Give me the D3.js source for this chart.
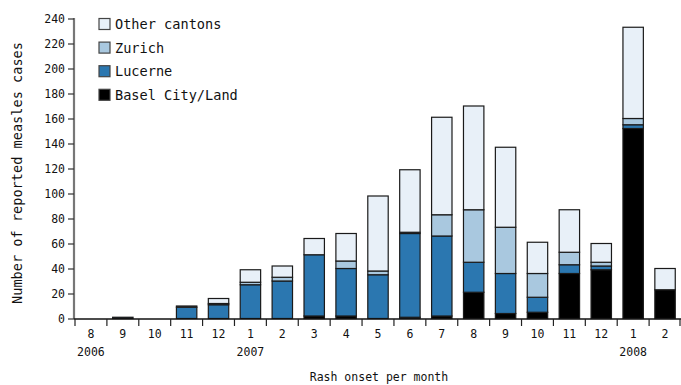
<!DOCTYPE html>
<html><head><meta charset="utf-8">
<script src="https://cdn.jsdelivr.net/npm/d3@7/dist/d3.min.js"></script>
<style>
body{margin:0;background:#fff;}
text{font-family:"DejaVu Sans Mono",monospace;fill:#111;}
</style></head>
<body><svg id="c" width="681" height="385"></svg>
<script>
const months = ["8","9","10","11","12","1","2","3","4","5","6","7","8","9","10","11","12","1","2"];
const yearLabels = [{i:0,label:"2006"},{i:5,label:"2007"},{i:17,label:"2008"}];
const basel  = [0,0,0,0,0,0,0,2,2,0,1,2,21,4,5,36,39,152,23];
const lucerne= [0,1,0,9,11,27,30,49,38,35,67,64,24,32,12,7,3,3,0];
const zurich = [0,0,0,0,1,2,3,0,6,3,1,17,42,37,19,10,3,5,0];
const other  = [0,0,0,1,4,10,9,13,22,60,50,78,83,64,25,34,15,73,17];
const seriesNames = ["Basel City/Land","Lucerne","Zurich","Other cantons"];
const colors = ["#000000","#2b77b0","#a9c8df","#e8f0f8"];
const yTicks = d3.range(0,241,20);

const svg = d3.select("#c");
const x = d3.scaleBand().domain(d3.range(months.length)).range([75,681]).paddingInner(0.36).paddingOuter(0.18);
const y = d3.scaleLinear().domain([0,240]).range([318.5,18.5]);

const rows = months.map((m,i)=>({i, b:basel[i], l:lucerne[i], z:zurich[i], o:other[i]}));
const stack = d3.stack().keys(["b","l","z","o"])(rows);

stack.forEach((s,k)=>{
  svg.append("g").selectAll("rect").data(s.filter(d=>d[1]-d[0]>0)).join("rect")
    .attr("x",d=>x(d.data.i)).attr("width",x.bandwidth())
    .attr("y",d=>y(d[1])).attr("height",d=>y(d[0])-y(d[1]))
    .attr("fill",colors[k]).attr("stroke","#1a1a1a").attr("stroke-width",1.2);
});

// y axis
const ya = svg.append("g").attr("transform","translate(74,0)")
  .call(d3.axisLeft(y).tickValues(yTicks).tickSize(6).tickPadding(3));
ya.select(".domain").attr("stroke","#777").attr("stroke-width",2.2).attr("d","M0,18V319");
ya.selectAll(".tick line").attr("stroke","#333").attr("stroke-width",1.2);
ya.selectAll("text").style("font-size","11.5px").attr("fill","#111");

// x axis
const step = x.step();
const xg = svg.append("g");
xg.append("line").attr("x1",74).attr("x2",681).attr("y1",319).attr("y2",319).attr("stroke","#111").attr("stroke-width",1.3);
d3.range(months.length+1).forEach(k=>{
  const px = 75 + k*step - (k===months.length?1:0);
  xg.append("line").attr("x1",px).attr("x2",px).attr("y1",319).attr("y2",326).attr("stroke","#222").attr("stroke-width",1.2);
});
xg.selectAll("text.m").data(months).join("text").attr("class","m")
  .attr("x",(d,i)=>x(i)+x.bandwidth()/2).attr("y",338).attr("text-anchor","middle")
  .style("font-size","11.5px").text(d=>d);
xg.selectAll("text.yr").data(yearLabels).join("text").attr("class","yr")
  .attr("x",d=>x(d.i)+x.bandwidth()/2).attr("y",356).attr("text-anchor","middle")
  .style("font-size","11.5px").text(d=>d.label);

// axis titles
svg.append("text").attr("x",379).attr("y",381).attr("text-anchor","middle")
  .style("font-size","11.5px").text("Rash onset per month");
svg.append("text").attr("transform","translate(22,173) rotate(-90)").attr("text-anchor","middle")
  .style("font-size","13.6px").text("Number of reported measles cases");

// legend
const leg = svg.append("g");
const legOrder = [3,2,1,0];
legOrder.forEach((k,j)=>{
  const yy = 18.5 + j*23.6;
  leg.append("rect").attr("x",99).attr("y",yy).attr("width",11).attr("height",11)
    .attr("fill",colors[k]).attr("stroke","#444").attr("stroke-width",1.2);
  leg.append("text").attr("x",115).attr("y",yy+10.5).style("font-size","13.6px").text(seriesNames[k]);
});
</script></body></html>
